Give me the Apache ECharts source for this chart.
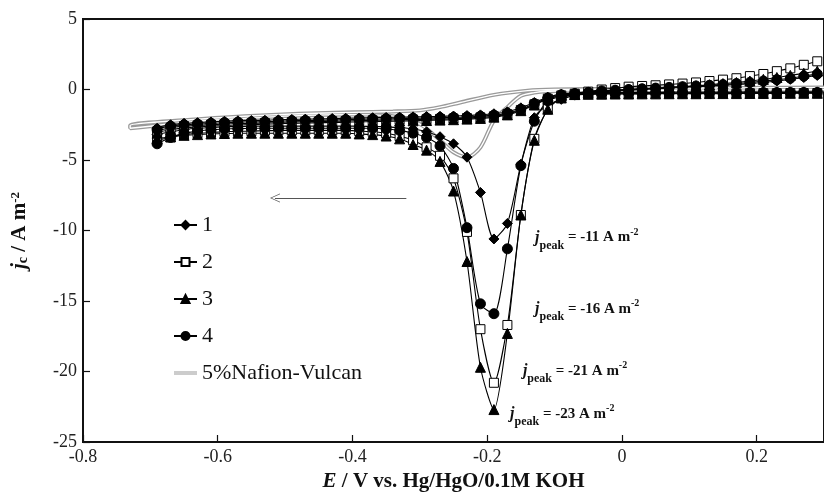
<!DOCTYPE html>
<html>
<head>
<meta charset="utf-8">
<script src="https://cdn.jsdelivr.net/npm/echarts@6/dist/echarts.min.js"></script>
<style>
  html, body { margin: 0; padding: 0; background: #fff; }
  #main { width: 824px; height: 499px; }
</style>
</head>
<body>
<div id="main"></div>
<script>
// potentials of the marked points, cathodic sweep (0.29 -> -0.69 V)
const sweepE = [0.29, 0.27, 0.25, 0.23, 0.21, 0.19, 0.17, 0.15, 0.13, 0.11,
  0.09, 0.07, 0.05, 0.03, 0.01, -0.01, -0.03, -0.05, -0.07, -0.09,
  -0.11, -0.13, -0.15, -0.17, -0.19, -0.21, -0.23, -0.25, -0.27, -0.29,
  -0.31, -0.33, -0.35, -0.37, -0.39, -0.41, -0.43, -0.45, -0.47, -0.49,
  -0.51, -0.53, -0.55, -0.57, -0.59, -0.61, -0.63, -0.65, -0.67, -0.69]

// cathodic sweep (same order as sweepE)
const fwd1 = [1.0, 0.85, 0.72, 0.6, 0.5, 0.42, 0.35, 0.3, 0.25, 0.2,
  0.15, 0.1, 0.05, 0.0, -0.05, -0.1, -0.15, -0.25, -0.4, -0.7,
  -1.1, -2.0, -5.3, -9.5, -10.6, -7.3, -4.8, -3.85, -3.35, -3.0,
  -2.8, -2.7, -2.65, -2.62, -2.6, -2.6, -2.6, -2.6, -2.6, -2.6,
  -2.6, -2.6, -2.6, -2.62, -2.65, -2.7, -2.75, -2.85, -3.0, -3.2]
const fwd2 = [2.0, 1.75, 1.5, 1.3, 1.1, 0.95, 0.8, 0.7, 0.6, 0.5,
  0.42, 0.36, 0.3, 0.25, 0.2, 0.1, 0.0, -0.15, -0.3, -0.6,
  -1.4, -3.5, -8.9, -16.7, -20.8, -17.0, -10.1, -6.3, -4.7, -4.1,
  -3.6, -3.3, -3.1, -3.0, -2.95, -2.9, -2.9, -2.9, -2.9, -2.9,
  -2.9, -2.92, -2.95, -2.97, -3.0, -3.05, -3.1, -3.2, -3.4, -3.6]
const fwd3 = [1.3, 1.15, 1.0, 0.85, 0.72, 0.6, 0.5, 0.42, 0.34, 0.27,
  0.2, 0.15, 0.1, 0.05, 0.0, -0.05, -0.1, -0.2, -0.35, -0.6,
  -1.4, -3.6, -8.9, -17.3, -22.7, -19.7, -12.2, -7.2, -5.1, -4.3,
  -3.9, -3.5, -3.3, -3.2, -3.15, -3.1, -3.1, -3.1, -3.1, -3.1,
  -3.1, -3.1, -3.1, -3.1, -3.12, -3.15, -3.2, -3.25, -3.35, -3.5]
const fwd4 = [1.1, 0.95, 0.8, 0.7, 0.6, 0.5, 0.42, 0.35, 0.3, 0.25,
  0.2, 0.15, 0.1, 0.05, 0.0, -0.05, -0.1, -0.2, -0.3, -0.5,
  -0.8, -2.25, -5.4, -11.3, -15.9, -15.2, -9.8, -5.6, -4.0, -3.4,
  -3.1, -2.9, -2.8, -2.75, -2.75, -2.75, -2.75, -2.75, -2.75, -2.75,
  -2.75, -2.75, -2.75, -2.77, -2.8, -2.85, -2.95, -3.1, -3.4, -3.85]

// return sweep, listed from -0.69 up to 0.29 V
const rev1 = [-2.75, -2.5, -2.4, -2.35, -2.3, -2.25, -2.22, -2.2, -2.18, -2.15,
  -2.12, -2.1, -2.08, -2.06, -2.04, -2.02, -2.0, -1.98, -1.96, -1.94,
  -1.92, -1.9, -1.88, -1.85, -1.8, -1.72, -1.58, -1.3, -0.92, -0.55,
  -0.33, -0.26, -0.24, -0.23, -0.22, -0.22, -0.21, -0.21, -0.2, -0.2,
  -0.2, -0.19, -0.19, -0.19, -0.18, -0.18, -0.18, -0.17, -0.17, -0.17]
const rev2 = [-3.0, -2.72, -2.6, -2.55, -2.5, -2.45, -2.42, -2.4, -2.37, -2.34,
  -2.31, -2.29, -2.27, -2.25, -2.23, -2.21, -2.19, -2.17, -2.15, -2.13,
  -2.11, -2.09, -2.06, -2.03, -1.98, -1.9, -1.75, -1.45, -1.05, -0.65,
  -0.42, -0.34, -0.32, -0.31, -0.3, -0.3, -0.29, -0.29, -0.28, -0.28,
  -0.28, -0.27, -0.27, -0.27, -0.26, -0.26, -0.26, -0.25, -0.25, -0.25]
const rev3 = [-3.1, -2.85, -2.72, -2.66, -2.6, -2.56, -2.52, -2.49, -2.46, -2.43,
  -2.4, -2.38, -2.36, -2.34, -2.32, -2.3, -2.28, -2.26, -2.24, -2.22,
  -2.2, -2.17, -2.14, -2.1, -2.05, -1.96, -1.8, -1.5, -1.1, -0.68,
  -0.44, -0.36, -0.34, -0.33, -0.32, -0.32, -0.31, -0.31, -0.3, -0.3,
  -0.3, -0.29, -0.29, -0.29, -0.28, -0.28, -0.28, -0.27, -0.27, -0.27]
const rev4 = [-2.85, -2.6, -2.5, -2.45, -2.4, -2.35, -2.32, -2.3, -2.28, -2.25,
  -2.22, -2.2, -2.18, -2.16, -2.14, -2.12, -2.1, -2.08, -2.06, -2.04,
  -2.02, -2.0, -1.98, -1.95, -1.9, -1.82, -1.68, -1.4, -1.0, -0.6,
  -0.38, -0.3, -0.28, -0.27, -0.26, -0.26, -0.25, -0.25, -0.25, -0.24,
  -0.24, -0.24, -0.23, -0.23, -0.23, -0.22, -0.22, -0.22, -0.21, -0.21]

// 5%Nafion-Vulcan (no markers)
const vulcanFwdE = [0.3, 0.2, 0.1, 0.0, -0.05, -0.09, -0.11, -0.13, -0.15, -0.17, -0.19,
  -0.21, -0.23, -0.25, -0.27, -0.30, -0.34, -0.40, -0.48, -0.56, -0.64, -0.73]
const vulcanFwd = [0.0, -0.03, -0.05, -0.06, -0.07, -0.1, -0.12, -0.22, -0.45, -1.25, -2.2,
  -4.1, -4.8, -4.45, -3.6, -2.45, -1.9, -1.78, -1.85, -2.05, -2.3, -2.75]
const vulcanRevE = [-0.73, -0.64, -0.56, -0.48, -0.40, -0.34, -0.30, -0.27, -0.24, -0.19,
  -0.14, -0.10, 0.0, 0.1, 0.2, 0.3]
const vulcanRev = [-2.55, -2.15, -1.9, -1.72, -1.62, -1.56, -1.48, -1.25, -0.92, -0.38,
  -0.08, 0.0, 0.05, 0.1, 0.12, 0.15]

const names = ['1', '2', '3', '4', '5%Nafion-Vulcan']
const peakLabels = ['-11', '-16', '-21', '-23']

const serif = 'Liberation Serif'

const loop = (fwd, rev) => {
  const up = sweepE.slice().reverse()
  return sweepE.map((e, i) => [e, fwd[i]]).concat(up.map((e, i) => [e, rev[i]]))
}
const vulcanData = vulcanFwdE.map((e, i) => [e, vulcanFwd[i]])
  .concat(vulcanRevE.map((e, i) => [e, vulcanRev[i]]))

const markerSeries = (name, fwd, rev, symbol, size, fill) => ({
  name: name,
  type: 'line',
  data: loop(fwd, rev),
  smooth: 0.25,
  symbol: symbol,
  symbolSize: size,
  showSymbol: true,
  lineStyle: { color: '#000', width: 1.1 },
  itemStyle: { color: fill, borderColor: '#000', borderWidth: 1 },
  z: 3
})

const peakText = (v) => '{j|j}{sub|peak}{t| = ' + v + ' A m}{sup|-2}'

const chart = echarts.init(document.getElementById('main'))

const option = {
  animation: false,
  backgroundColor: '#fff',
  grid: {
    left: 83, top: 19, right: -9, bottom: 57,
    show: true, borderColor: '#111', borderWidth: 2
  },
  legend: {
    orient: 'vertical',
    left: 168,
    top: 209,
    itemGap: 15,
    itemWidth: 23,
    itemHeight: 10,
    textStyle: { fontFamily: serif, fontSize: 22, color: '#111' },
    data: [
      '1', '2', '3', '4',
      { name: names[4], icon: 'path://M0,0 M0,3 H30 V4.3 H0 Z M0,5.7 H30 V7 H0 Z M0,10' }
    ]
  },
  xAxis: {
    type: 'value',
    min: -0.8,
    max: 0.3,
    interval: 0.2,
    name: '{e|E}{t| / V vs. Hg/HgO/0.1M KOH}',
    nameLocation: 'middle',
    nameGap: 27,
    nameTextStyle: {
      rich: {
        e: { fontFamily: serif, fontSize: 21, fontWeight: 'bold', fontStyle: 'italic', color: '#111' },
        t: { fontFamily: serif, fontSize: 21, fontWeight: 'bold', color: '#111' }
      }
    },
    axisLine: { onZero: false, lineStyle: { color: '#111', width: 2 } },
    axisTick: { inside: true, length: 7, lineStyle: { color: '#111', width: 1.2 } },
    axisLabel: {
      showMaxLabel: false,
      margin: 6,
      fontFamily: serif, fontSize: 18, color: '#222',
      formatter: (v) => String(Math.round(v * 10) / 10)
    },
    splitLine: { show: false }
  },
  yAxis: {
    type: 'value',
    min: -25,
    max: 5,
    interval: 5,
    name: '{j|j}{c|c}{t| / A m}{s|-2}',
    nameLocation: 'middle',
    nameGap: 53,
    nameTextStyle: {
      rich: {
        j: { fontFamily: serif, fontSize: 21, fontWeight: 'bold', fontStyle: 'italic', color: '#111' },
        c: { fontFamily: serif, fontSize: 14, fontWeight: 'bold', color: '#111', verticalAlign: 'bottom', lineHeight: 14 },
        t: { fontFamily: serif, fontSize: 21, fontWeight: 'bold', color: '#111' },
        s: { fontFamily: serif, fontSize: 13, fontWeight: 'bold', color: '#111', verticalAlign: 'top', lineHeight: 13 }
      }
    },
    axisLine: { onZero: false, lineStyle: { color: '#111', width: 2 } },
    axisTick: { inside: true, length: 7, lineStyle: { color: '#111', width: 1.2 } },
    axisLabel: { margin: 6, fontFamily: serif, fontSize: 18, color: '#222' },
    splitLine: { show: false }
  },
  series: [
    {
      name: names[4],
      type: 'line',
      data: vulcanData,
      smooth: 0.3,
      showSymbol: false,
      symbol: 'none',
      lineStyle: { color: '#9a9a9a', width: 4 },
      itemStyle: { color: '#9a9a9a' },
      z: 1
    },
    {
      name: 'inner',
      type: 'line',
      data: vulcanData,
      smooth: 0.3,
      showSymbol: false,
      symbol: 'none',
      silent: true,
      lineStyle: { color: '#fff', width: 1.4 },
      itemStyle: { color: '#fff' },
      z: 2,
      markLine: {
        silent: true,
        symbol: ['none', 'path://M0,10 L5,0 L10,10 L9.2,10 L5,1.6 L0.8,10 Z'],
        symbolSize: [9, 10],
        lineStyle: { color: '#555', width: 1, type: 'solid' },
        label: { show: false },
        data: [[{ coord: [-0.32, -7.7] }, { coord: [-0.515, -7.7] }]]
      },
      markPoint: {
        silent: true,
        symbol: 'circle',
        symbolSize: 0,
        label: {
          show: true,
          position: 'right',
          distance: 0,
          rich: {
            j: { fontFamily: serif, fontSize: 16, fontWeight: 'bold', fontStyle: 'italic', color: '#111' },
            sub: { fontFamily: serif, fontSize: 12, fontWeight: 'bold', color: '#111', verticalAlign: 'bottom', lineHeight: 12, padding: [0, 0, -4, 0] },
            t: { fontFamily: serif, fontSize: 15, fontWeight: 'bold', color: '#111', lineHeight: 20 },
            sup: { fontFamily: serif, fontSize: 10, fontWeight: 'bold', color: '#111', verticalAlign: 'top', lineHeight: 10 }
          }
        },
        data: [
          { coord: [-0.129, -10.5], label: { formatter: peakText(peakLabels[0]) } },
          { coord: [-0.129, -15.55], label: { formatter: peakText(peakLabels[1]) } },
          { coord: [-0.147, -19.95], label: { formatter: peakText(peakLabels[2]) } },
          { coord: [-0.166, -23.0], label: { formatter: peakText(peakLabels[3]) } }
        ]
      }
    },
    markerSeries(names[0], fwd1, rev1, 'diamond', 10, '#000'),
    markerSeries(names[1], fwd2, rev2, 'rect', 9, '#fff'),
    markerSeries(names[2], fwd3, rev3, 'triangle', 10, '#000'),
    markerSeries(names[3], fwd4, rev4, 'circle', 10, '#000')
  ]
}

option && chart.setOption(option)
</script>
</body>
</html>
